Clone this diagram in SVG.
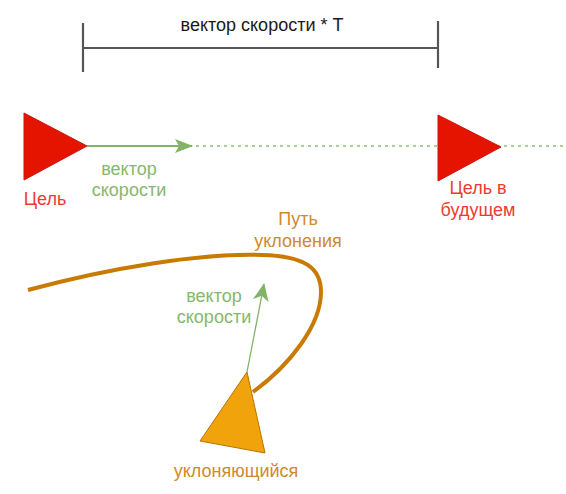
<svg xmlns="http://www.w3.org/2000/svg" width="566" height="494" viewBox="0 0 566 494">
<style>
text{font-family:"Liberation Sans",Arial,sans-serif;font-size:18px;text-anchor:middle}
.red{fill:#e51400;stroke:#c8170a;stroke-width:1}
.rt{fill:#f03a30}
.gt{fill:#85b86a}
.ot{fill:#cf8a2a}
.dots{stroke:#a9cf94;stroke-width:2;stroke-dasharray:3,4;fill:none}
.dim{stroke:#555;stroke-width:2.2}
</style>
<defs>
<marker id="ga" viewBox="0 0 18 14" refX="17" refY="7" markerWidth="18" markerHeight="14" orient="auto" markerUnits="userSpaceOnUse">
<path d="M0,0 L18,7 L0,14 L4,7 Z" fill="#82b366"/>
</marker>
<marker id="gb" viewBox="0 0 18 16" refX="17" refY="8" markerWidth="18" markerHeight="16" orient="auto" markerUnits="userSpaceOnUse">
<path d="M0,0 L18,8 L0,16 L5,8 Z" fill="#82b366"/>
</marker>
</defs>
<g id="connectors">
<path class="dots" d="M196,146 L566,146"/>
<path d="M87,146 L192,146" stroke="#82b366" stroke-width="2" fill="none" marker-end="url(#ga)"/>
<path d="M247,372 L264,284" stroke="#82b366" stroke-width="1.3" fill="none" marker-end="url(#gb)"/>
<path d="M28,290 C110,268 200,253 262,255 C305,256 321,268 321,292 C321,325 290,365 253,392" stroke="#c97a00" stroke-width="4" fill="none"/>
</g>
<g id="dimension">
<line class="dim" x1="83" y1="48" x2="438" y2="48"/>
<line class="dim" x1="83" y1="23" x2="83" y2="72"/>
<line class="dim" x1="438" y1="21" x2="438" y2="68"/>
<text x="262" y="31" fill="#1a1a1a">вектор скорости * T</text>
</g>
<g id="target">
<polygon class="red" points="24,113 24,180 87,146"/>
<text class="rt" x="45" y="205">Цель</text>
</g>
<g id="velocity-label">
<text class="gt" x="129" y="175">вектор</text>
<text class="gt" x="129" y="196">скорости</text>
</g>
<g id="future-target">
<polygon class="red" points="438,115 438,181 501,147"/>
<text class="rt" x="478" y="194">Цель в</text>
<text class="rt" x="478" y="216">будущем</text>
</g>
<g id="path-label">
<text class="ot" x="298" y="225">Путь</text>
<text class="ot" x="298" y="247">уклонения</text>
</g>
<g id="evader-velocity-label">
<text class="gt" x="214" y="302">вектор</text>
<text class="gt" x="214" y="323">скорости</text>
</g>
<g id="evader">
<polygon points="247,372 200,441 265,453" fill="#f0a30a" stroke="#bd7000" stroke-width="1"/>
<text class="ot" x="236" y="477">уклоняющийся</text>
</g>
</svg>
